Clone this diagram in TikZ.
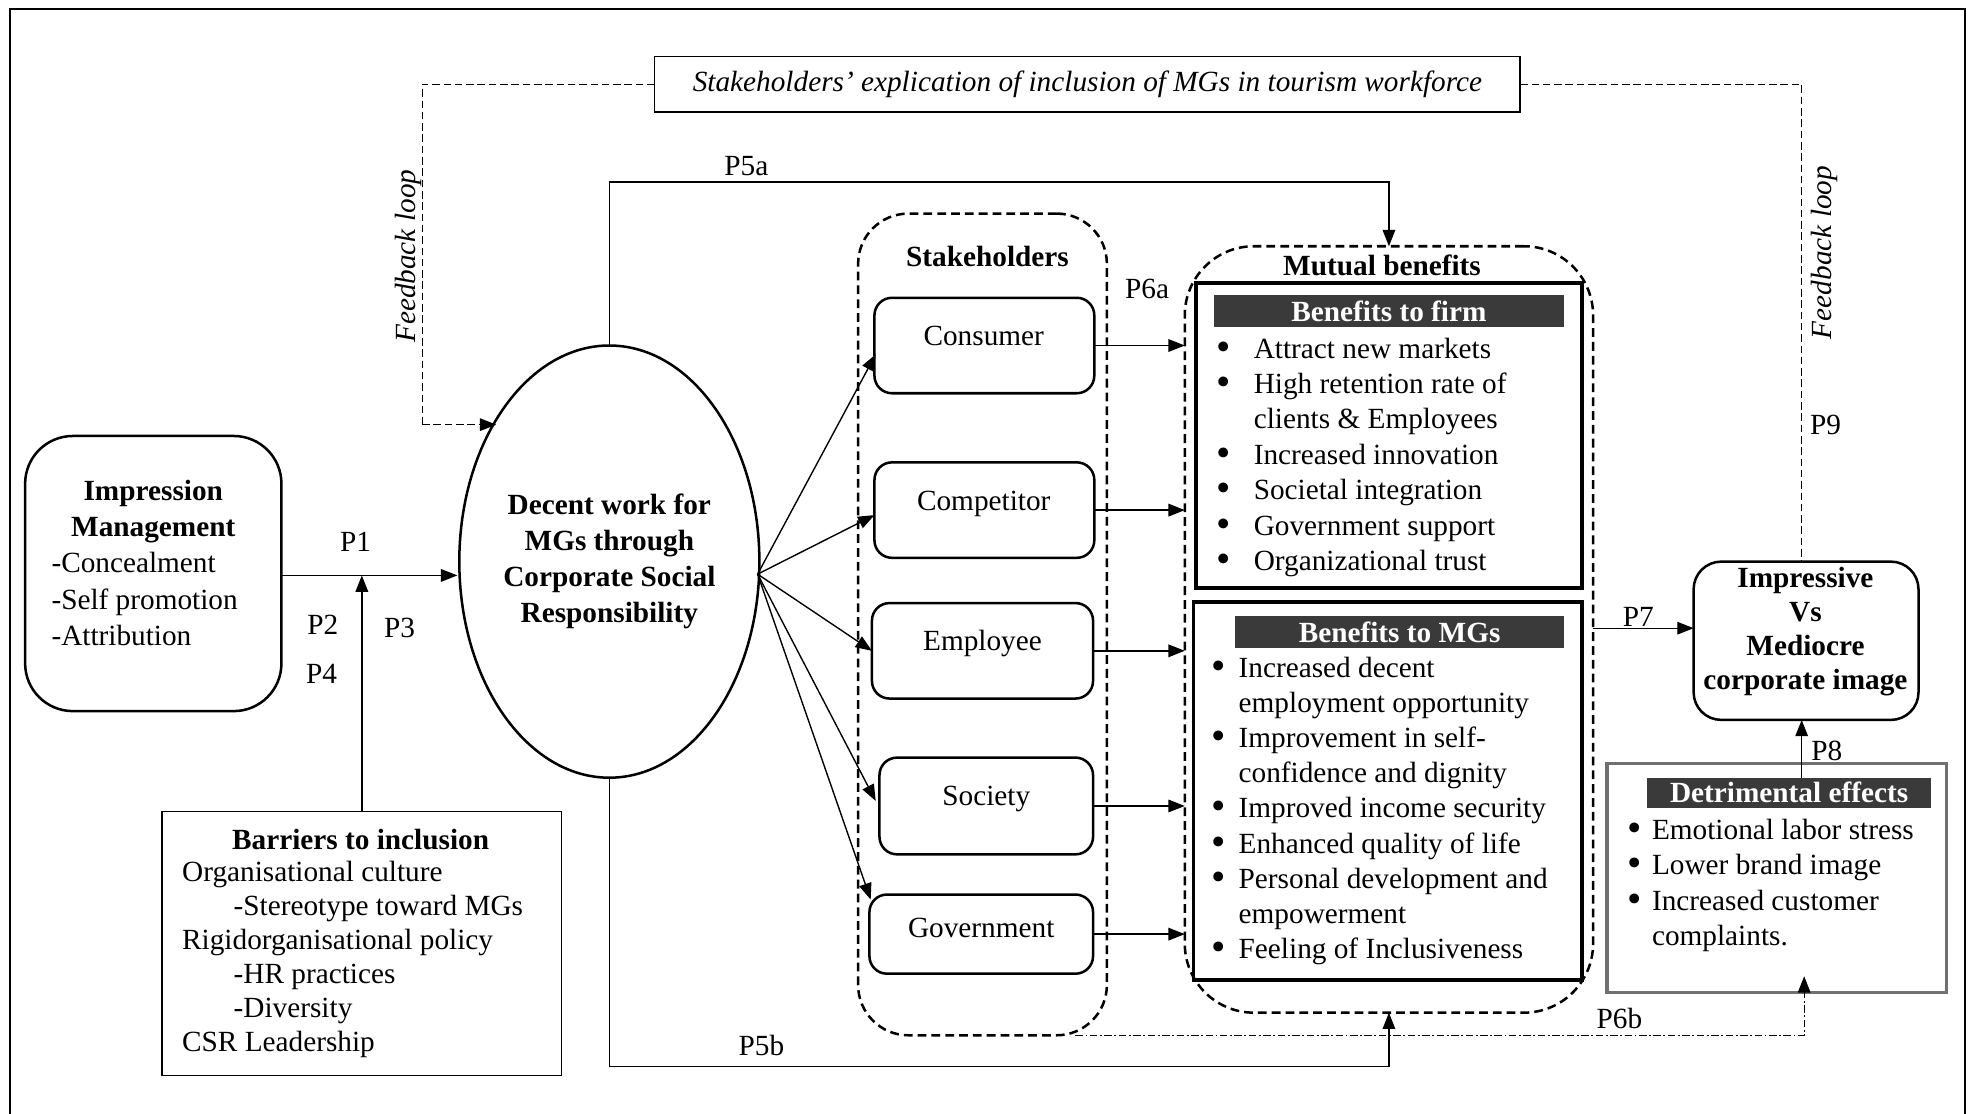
\documentclass[tikz,border=0pt]{standalone}
\usepackage{fontspec}
\usepackage{graphicx}
\setmainfont{Liberation Serif}
\usetikzlibrary{shapes.geometric,arrows.meta,calc}
\definecolor{hdrgray}{HTML}{3A3A3A}
\definecolor{detgray}{HTML}{707070}
\newcommand{\fsz}{\fontsize{23.3}{28.3}\selectfont}
\newcommand{\mytab}[2]{\begin{tabular}[t]{@{}#1@{}}#2\end{tabular}}
\newcommand{\bul}{\raisebox{-1.6pt}{\scalebox{1.4}{\textbullet}}}
\begin{document}
\begin{tikzpicture}[x=1pt,y=-1pt,
  every node/.style={inner sep=0pt,outer sep=0pt},
  font=\fsz,
  conn/.style={line width=1.1pt},
  arr/.style={line width=1.1pt,-{Triangle[length=13pt,width=10pt]}},
  fbline/.style={line width=1pt,dash pattern=on 6pt off 3pt},
  grpbox/.style={draw,line width=2pt,dash pattern=on 7pt off 4pt,rounded corners=#1},
  sbox/.style={draw,line width=2pt,rounded corners=14pt},
  hdr/.style={fill=hdrgray,text=white,font=\fsz\bfseries},
  lbl/.style={font=\fsz},
]
\useasboundingbox (0,0) rectangle (1568,886);
% outer frame
\draw[line width=2pt] (8,892) -- (8,7) -- (1564,7) -- (1564,892);

% top box
\node[draw,line width=1.3pt,minimum width=689pt,minimum height=44pt,font=\fsz\itshape] (top) at (865.5,67) {Stakeholders’ explication of inclusion of MGs in tourism workforce};

% impression management
\node[draw,line width=2pt,rounded corners=38pt,minimum width=204pt,minimum height=219pt] (imp) at (122,456.5) {};
\node[anchor=base,font=\fontsize{23.3}{29}\selectfont\bfseries] (impT) at (122,398) {\mytab{c}{Impression\\Management}};
\node[anchor=base west,font=\fontsize{23.3}{29}\selectfont] (impL) at (41,456) {\mytab{l}{-Concealment\\-Self promotion\\-Attribution}};

% barriers
\node[draw,line width=1.3pt,minimum width=318pt,minimum height=210pt] (bar) at (288,751) {};
\node[anchor=base,font=\fsz\bfseries] (barT) at (287,676) {Barriers to inclusion};
\node[anchor=base west,font=\fontsize{23.3}{27}\selectfont] (barL) at (145,702) {\mytab{l}{Organisational culture\\\hspace*{41pt}-Stereotype toward MGs\\Rigidorganisational policy\\\hspace*{41pt}-HR practices\\\hspace*{41pt}-Diversity\\CSR Leadership}};

% ellipse
\node[draw,ellipse,line width=2pt,minimum width=232pt,minimum height=344pt,font=\fontsize{23.3}{28.7}\selectfont\bfseries] (csr) at (485,447) {\mytab{c}{Decent work for\\MGs through\\Corporate Social\\Responsibility}};

% stakeholders group
\node[grpbox=40pt,minimum width=198pt,minimum height=654pt] (stk) at (782,497) {};
\node[anchor=base,font=\fsz\bfseries] (stkT) at (786,212) {Stakeholders};
\node[sbox,minimum width=175pt,minimum height=76pt] (cons) at (783.5,275) {};
\node[sbox,minimum width=175pt,minimum height=76pt] (comp) at (783.5,406) {};
\node[sbox,minimum width=176pt,minimum height=76pt] (empl) at (782,518) {};
\node[sbox,minimum width=170pt,minimum height=77pt] (soc) at (785,641.5) {};
\node[sbox,minimum width=178pt,minimum height=63pt] (gov) at (781,743.5) {};
\node[anchor=base] (consT) at (783,275) {Consumer};
\node[anchor=base] (compT) at (783,406) {Competitor};
\node[anchor=base] (emplT) at (782,518) {Employee};
\node[anchor=base] (socT) at (785,641) {Society};
\node[anchor=base] (govT) at (781,746) {Government};

% mutual benefits
\node[grpbox=55pt,minimum width=325pt,minimum height=610pt] (mb) at (1105.5,501) {};
\node[anchor=base,font=\fsz\bfseries] (mbT) at (1100,219) {Mutual benefits};
\node[draw,line width=3pt,minimum width=307pt,minimum height=243pt] (firm) at (1105.5,346.5) {};
\node[hdr,minimum width=279pt,minimum height=25pt] (firmH) at (1105.5,247.5) {Benefits to firm};
\node[anchor=base west,font=\fontsize{23.3}{28.2}\selectfont] (firmL) at (968.5,285) {\mytab{l@{\hspace{18pt}}l}{\bul & Attract new markets\\\bul & High retention rate of\\ & clients \& Employees\\\bul & Increased innovation\\\bul & Societal integration\\\bul & Government support\\\bul & Organizational trust}};
\node[draw,line width=3pt,minimum width=309pt,minimum height=301pt] (mgs) at (1104.5,629.5) {};
\node[hdr,minimum width=262pt,minimum height=26pt] (mgsH) at (1114,503) {Benefits to MGs};
\node[anchor=base west,font=\fontsize{23.3}{28}\selectfont] (mgsL) at (964.5,539) {\mytab{l@{\hspace{10pt}}l}{\bul & Increased decent\\ & employment opportunity\\\bul & Improvement in self-\\ & confidence and dignity\\\bul & Improved income security\\\bul & Enhanced quality of life\\\bul & Personal development and\\ & empowerment\\\bul & Feeling of Inclusiveness}};

% corporate image
\node[draw,line width=2pt,rounded corners=22pt,minimum width=179pt,minimum height=126pt] (img) at (1437.5,510) {};
\node[anchor=base,font=\fontsize{23.3}{27}\selectfont\bfseries] (imgT) at (1437,468) {\mytab{c}{Impressive\\Vs\\Mediocre\\corporate image}};

% detrimental effects
\node[draw=detgray,line width=2.5pt,minimum width=270pt,minimum height=182pt] (det) at (1414,699) {};
\node[hdr,minimum width=226pt,minimum height=24pt] (detH) at (1424,631) {Detrimental effects};
\node[anchor=base west,font=\fontsize{23.3}{28.3}\selectfont] (detL) at (1295.5,668) {\mytab{l@{\hspace{8pt}}l}{\bul & Emotional labor stress\\\bul & Lower brand image\\\bul & Increased customer\\ & complaints.}};

% coordinates
\coordinate (p1s) at (224,458);
\coordinate (p1e) at (364,458);
\coordinate (fbL) at (336,338);
\coordinate (fbLe) at (395,338);
\coordinate (p5a) at (485,145);
\coordinate (p5b) at (485,849);
\coordinate (fan) at (603,457);
\coordinate (p7y) at (0,500);
\coordinate (p8x) at (1434,0);
\coordinate (p6s) at (856,824);
\coordinate (p6e) at (1436,777);
\coordinate (fbR) at (1434,67);

% connectors
\draw[fbline] (top.west) -| (fbL);
\draw[fbline,-{Triangle[length=13pt,width=10pt]}] (fbL) -- (fbLe);
\draw[fbline] (top.east) -- (fbR) -- (fbR |- img.north);
\draw[arr] (p1s) -- (p1e);
\draw[arr] (bar.north) -- (bar.north |- p1e);
\draw[arr] (csr.north) -- (p5a) -| (mb.north);
\draw[arr] (csr.south) -- (p5b) -| (mb.south);
\draw[arr] (fan) -- ($(cons.west)+(1,7)$);
\draw[arr] (fan) -- ($(comp.west)+(0,4)$);
\draw[arr] (fan) -- (empl.west);
\draw[arr] (fan) -- ($(soc.west)+(-3,-4)$);
\draw[arr] (fan) -- ($(gov.north west)+(1,4)$);
\draw[arr] (cons.east) -- (cons.east -| mb.west);
\draw[arr] (comp.east) -- (comp.east -| mb.west);
\draw[arr] (empl.east) -- (empl.east -| mb.west);
\draw[arr] (soc.east) -- (soc.east -| mb.west);
\draw[arr] (gov.east) -- (gov.east -| mb.west);
\draw[arr] (mb.east |- p7y) -- (img.west |- p7y);
\draw[arr] (detH.north -| p8x) -- (img.south -| p8x);
\draw[line width=1pt,dash pattern=on 6pt off 2pt on 1.5pt off 2pt,-{Triangle[length=13pt,width=10pt]}] (p6s) -| (p6e);

% labels
\node[rotate=90,font=\fsz\itshape] (fbLT) at (325,204) {Feedback loop};
\node[rotate=90,font=\fsz\itshape] (fbRT) at (1452,201) {Feedback loop};
\node (P5a) at (594,132) {P5a};
\node (P6a) at (913,230) {P6a};
\node (P1) at (283,431) {P1};
\node (P2) at (257,497) {P2};
\node (P3) at (318,500) {P3};
\node (P4) at (256,536) {P4};
\node (P7) at (1304,491) {P7};
\node (P8) at (1454,598) {P8};
\node (P9) at (1453,338) {P9};
\node (P5b) at (606,832) {P5b};
\node (P6b) at (1289,811) {P6b};
\end{tikzpicture}
\end{document}
